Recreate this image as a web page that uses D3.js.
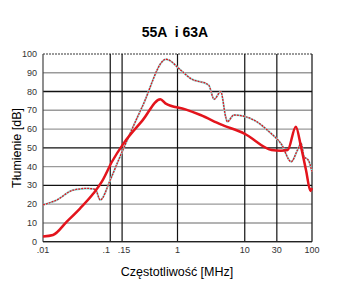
<!DOCTYPE html>
<html>
<head>
<meta charset="utf-8">
<script src="https://cdn.jsdelivr.net/npm/d3@7"></script>
<style>
  body { margin: 0; background: #fff; }
  text { font-family: "Liberation Sans", Arial, sans-serif; }
</style>
</head>
<body>
<script>
        // chart values
        var title = "55A  i 63A"
        var xLabel = "Częstotliwość [MHz]"
        var yLabel = "Tłumienie [dB]"

        var xTicks = [0.01, 0.1, 0.15, 1, 10, 30, 100]
        var xTickLabels = [".01", ".1", ".15", "1", "10", "30", "100"]
        var yTicks = [0, 10, 20, 30, 40, 50, 60, 70, 80, 90, 100]
        var darkRows = [30, 50, 80]

        // thick curve
        var thickFreq = [0.01, 0.0141, 0.0226, 0.0357, 0.0564, 0.075, 0.106, 0.158, 0.3, 0.557, 0.66, 1.31, 2.2, 4.4, 10, 25, 34.6, 43.6, 57.5, 68.6, 81.4, 95, 100]
        var thickDb   = [2.8,  3.6,    10.7,   17.8,   25.8,   32,    42.6,  52.4,  64.5, 75.9,  73.7, 70.5, 67.5, 62.5, 57.5, 48.9, 48.5, 48.9, 61.3, 50.6, 38.2, 27, 28.5]

        // thin dotted curve
        var thinFreq = [0.01, 0.016, 0.028, 0.045, 0.06, 0.071, 0.1, 0.133, 0.3, 0.677, 1.11, 1.56, 2.9, 3.5, 4.4, 5.2, 5.5, 6.9, 13.7, 24, 35, 49, 61, 69, 76, 88, 100]
        var thinDb   = [19.6, 22.2,  27.5,  28.4,  27.9, 22.2,  32.9, 43.5, 72,  97.2,  91.5, 87,   83.5, 75.9, 79.9, 66.6, 63.9, 67.5, 64.8, 58, 52, 42.6, 48.9, 52.4, 45.3, 43.5, 37.3]

        var width = 341
        var height = 287

        var svg = d3.select("body")
            .append("svg")
            .attr("width", width)
            .attr("height", height)

        var x = d3.scaleLog().domain([0.01, 100]).range([43, 312])
        var y = d3.scaleLinear().domain([0, 100]).range([241.7, 54])

        // horizontal grid
        svg.selectAll(".hgrid")
            .data(yTicks)
            .enter()
            .append("line")
            .attr("x1", x(0.01))
            .attr("x2", x(100))
            .attr("y1", function(d){ return y(d) })
            .attr("y2", function(d){ return y(d) })
            .attr("stroke", function(d){ return darkRows.indexOf(d) > -1 ? "#111" : "#9a9a9a" })
            .attr("stroke-width", function(d){ return d == 100 ? 2 : 1.4 })
            .attr("stroke-dasharray", function(d){ return d == 100 ? "2,1" : null })

        // vertical grid
        svg.selectAll(".vgrid")
            .data(xTicks)
            .enter()
            .append("line")
            .attr("x1", function(d){ return x(d) })
            .attr("x2", function(d){ return x(d) })
            .attr("y1", y(100))
            .attr("y2", y(0))
            .attr("stroke", function(d){ return d == 0.01 ? "#444" : "#111" })
            .attr("stroke-width", 1.2)

        // bottom line
        svg.append("line")
            .attr("x1", x(0.01)).attr("x2", x(100))
            .attr("y1", y(0)).attr("y2", y(0))
            .attr("stroke", "#222").attr("stroke-width", 1.2)

        // tick labels
        svg.selectAll(".ylab")
            .data(yTicks)
            .enter()
            .append("text")
            .attr("x", 37)
            .attr("y", function(d){ return y(d) + 3 })
            .attr("text-anchor", "end")
            .attr("font-size", "9px")
            .attr("fill", "#333")
            .text(function(d){ return d })

        svg.selectAll(".xlab")
            .data(xTicks)
            .enter()
            .append("text")
            .attr("x", function(d, i){ return x(d) + (i == 1 ? -4 : i == 2 ? 2 : 0) })
            .attr("y", 253)
            .attr("text-anchor", "middle")
            .attr("font-size", "9px")
            .attr("fill", "#333")
            .text(function(d, i){ return xTickLabels[i] })

        // titles
        svg.append("text")
            .attr("x", 175).attr("y", 37)
            .attr("text-anchor", "middle")
            .attr("font-size", "14px")
            .attr("font-weight", "bold")
            .style("white-space", "pre")
            .text(title)

        svg.append("text")
            .attr("x", 177).attr("y", 276)
            .attr("text-anchor", "middle")
            .attr("font-size", "12.5px")
            .text(xLabel)

        svg.append("text")
            .attr("transform", "translate(21,148) rotate(-90)")
            .attr("text-anchor", "middle")
            .attr("font-size", "12.5px")
            .text(yLabel)

        // curves
        var line = d3.line()
            .x(function(d){ return x(d[0]) })
            .y(function(d){ return y(d[1]) })
            .curve(d3.curveMonotoneX)

        var thin = d3.zip(thinFreq, thinDb)
        var thick = d3.zip(thickFreq, thickDb)

        svg.append("path")
            .attr("d", line(thin))
            .attr("fill", "none")
            .attr("stroke", "#8fe3e0")
            .attr("stroke-width", 2)

        svg.append("path")
            .attr("d", line(thin))
            .attr("fill", "none")
            .attr("stroke", "#e3141c")
            .attr("stroke-width", 1.3)
            .attr("stroke-dasharray", "2,1")

        svg.append("path")
            .attr("d", line(thick))
            .attr("fill", "none")
            .attr("stroke", "#e3141c")
            .attr("stroke-width", 2.5)
            .attr("stroke-linejoin", "round")
</script>
</body>
</html>
